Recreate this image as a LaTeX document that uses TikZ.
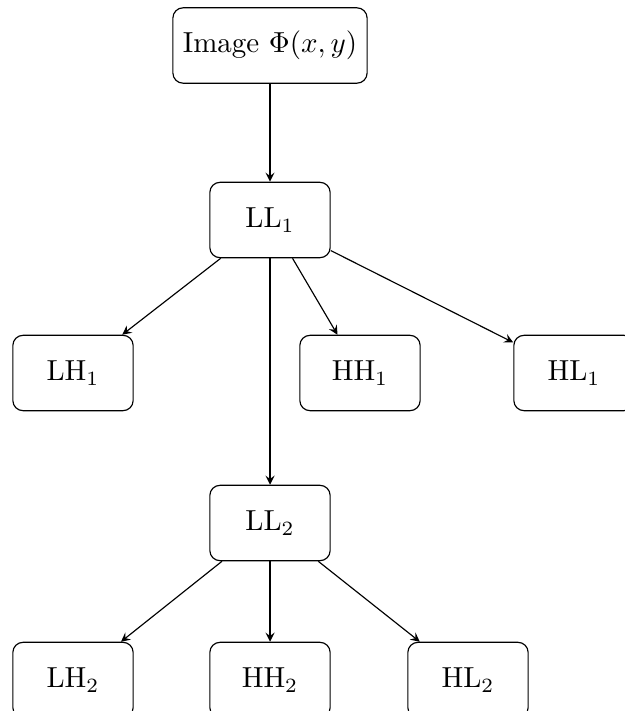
\documentclass[tikz,border=0pt]{standalone}
\usepackage{amsmath,amsfonts}
\usetikzlibrary{arrows.meta}

\begin{document}
\begin{tikzpicture}[>=stealth,x=0.345pt,y=-0.345pt,
    band/.style={draw,rounded corners=3.5pt,minimum width=41.5pt,minimum height=26pt,inner sep=3pt}]

% ---------- frame (the reference is cut at right and bottom) ----------
\useasboundingbox (0,0) rectangle (624,711);

% ---------- input ----------
\node[band,minimum width=67pt] (img) at (270,45.5) {Image $\Phi(x,y)$};

% ---------- level 1 ----------
\node[band] (ll1) at (270,220) {LL$_1$};
\node[band] (lh1) at (73,373)  {LH$_1$};
\node[band] (hh1) at (360,373) {HH$_1$};
\node[band] (hl1) at (574,373) {HL$_1$};

% ---------- level 2 ----------
\node[band] (ll2) at (270,523) {LL$_2$};
\node[band] (lh2) at (73,680)  {LH$_2$};
\node[band] (hh2) at (270,680) {HH$_2$};
\node[band] (hl2) at (468,680) {HL$_2$};

% arrows
\draw[->] (img) -- (ll1);
\draw[->] (ll1) -- (lh1);
\draw[->] (ll1) -- (hh1);
\draw[->] (ll1) -- (hl1);
\draw[->] (ll1) -- (ll2);
\draw[->] (ll2) -- (lh2);
\draw[->] (ll2) -- (hh2);
\draw[->] (ll2) -- (hl2);

\end{tikzpicture}
\end{document}
